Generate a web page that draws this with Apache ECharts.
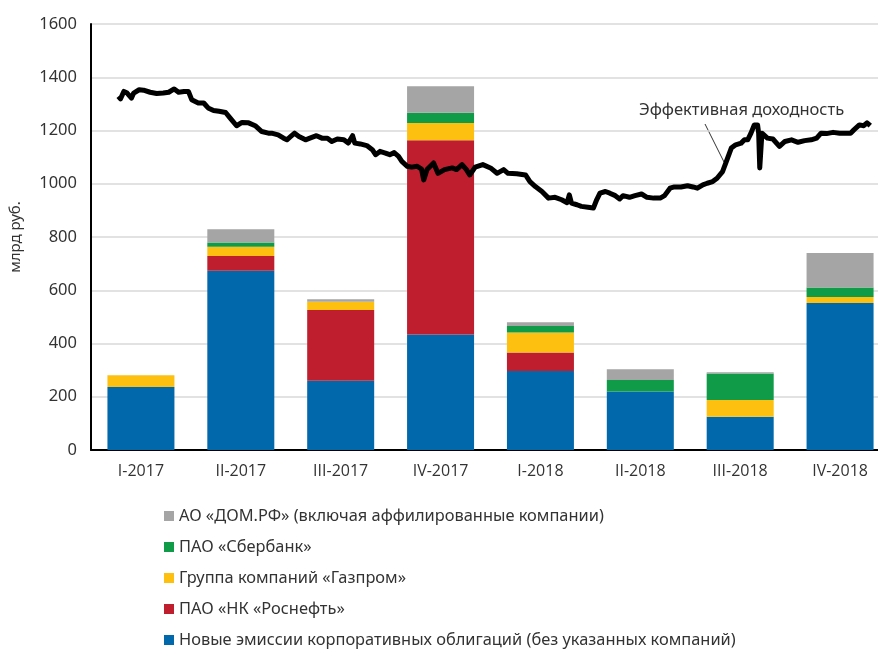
<!DOCTYPE html>
<html>
<head>
<meta charset="utf-8">
<script src="https://cdn.jsdelivr.net/npm/echarts@6/dist/echarts.min.js"></script>
<style>
  html, body { margin: 0; padding: 0; background: #fff; overflow: hidden; }
  #chart { width: 892px; height: 700px; }
</style>
</head>
<body>
<div id="chart"></div>
<script>
// quarters on the x axis
const quarters = ["I-2017", "II-2017", "III-2017", "IV-2017", "I-2018", "II-2018", "III-2018", "IV-2018"];

// placements, bn rub (stacked bottom to top)
const newIssues = [237, 673, 260, 434, 297, 220, 125, 552];
const rosneft = [0, 56, 266, 729, 69, 0, 0, 0];
const gazprom = [44, 34, 31, 65, 75, 0, 63, 23];
const sberbank = [0, 16, 0, 39, 25, 43, 99, 35];
const domrf = [0, 50, 9, 99, 14, 40, 5, 130];

const seriesNames = [
  "Новые эмиссии корпоративных облигаций (без указанных компаний)",
  "ПАО «НК «Роснефть»",
  "Группа компаний «Газпром»",
  "ПАО «Сбербанк»",
  "АО «ДОМ.РФ» (включая аффилированные компании)"
];
const seriesColors = ["#0268AC", "#BE1E2D", "#FDC010", "#0F9B48", "#A5A5A5"];

// effective yield, %
const yieldDates = [
  "2017-01-26", "2017-01-28", "2017-01-31", "2017-02-03", "2017-02-07", "2017-02-09", "2017-02-14", "2017-02-18",
  "2017-02-24", "2017-03-02", "2017-03-08", "2017-03-13", "2017-03-18", "2017-03-22", "2017-03-27", "2017-03-31",
  "2017-04-03", "2017-04-09", "2017-04-14", "2017-04-18", "2017-04-23", "2017-04-28", "2017-05-04", "2017-05-08",
  "2017-05-14", "2017-05-19", "2017-05-25", "2017-05-31", "2017-06-06", "2017-06-12", "2017-06-15", "2017-06-21",
  "2017-06-26", "2017-06-29", "2017-07-02", "2017-07-06", "2017-07-10", "2017-07-16", "2017-07-20", "2017-07-26",
  "2017-07-31", "2017-08-05", "2017-08-09", "2017-08-14", "2017-08-20", "2017-08-24", "2017-08-28", "2017-08-30",
  "2017-09-04", "2017-09-10", "2017-09-15", "2017-09-18", "2017-09-22", "2017-09-27", "2017-10-01", "2017-10-05",
  "2017-10-09", "2017-10-12", "2017-10-17", "2017-10-21", "2017-10-26", "2017-10-30", "2017-11-01", "2017-11-04",
  "2017-11-10", "2017-11-14", "2017-11-20", "2017-11-27", "2017-12-01", "2017-12-06", "2017-12-10", "2017-12-13",
  "2017-12-18", "2017-12-25", "2018-01-01", "2018-01-07", "2018-01-13", "2018-01-17", "2018-01-25", "2018-02-02",
  "2018-02-06", "2018-02-11", "2018-02-17", "2018-02-23", "2018-03-01", "2018-03-07", "2018-03-12", "2018-03-14",
  "2018-03-16", "2018-03-21", "2018-03-25", "2018-03-31", "2018-04-05", "2018-04-08", "2018-04-11", "2018-04-16",
  "2018-04-20", "2018-04-25", "2018-04-29", "2018-05-02", "2018-05-08", "2018-05-13", "2018-05-19", "2018-05-24",
  "2018-05-30", "2018-06-05", "2018-06-09", "2018-06-14", "2018-06-18", "2018-06-24", "2018-06-30", "2018-07-05",
  "2018-07-09", "2018-07-14", "2018-07-18", "2018-07-23", "2018-07-27", "2018-08-01", "2018-08-04", "2018-08-09",
  "2018-08-13", "2018-08-18", "2018-08-21", "2018-08-24", "2018-08-27", "2018-08-30", "2018-09-02", "2018-09-03",
  "2018-09-04", "2018-09-06", "2018-09-11", "2018-09-16", "2018-09-22", "2018-09-27", "2018-10-03", "2018-10-09",
  "2018-10-15", "2018-10-21", "2018-10-26", "2018-10-30", "2018-11-04", "2018-11-10", "2018-11-16", "2018-11-22",
  "2018-11-26", "2018-11-29", "2018-12-04", "2018-12-08", "2018-12-11", "2018-12-14"
];
const yieldValues = [
  9.85, 9.79, 9.97, 9.93, 9.81, 9.93, 10.01, 10.00,
  9.95, 9.92, 9.93, 9.95, 10.03, 9.95, 9.97, 9.97,
  9.77, 9.69, 9.69, 9.57, 9.51, 9.49, 9.46, 9.33,
  9.14, 9.22, 9.21, 9.14, 9.00, 8.96, 8.96, 8.92,
  8.84, 8.80, 8.87, 8.96, 8.88, 8.80, 8.84, 8.90,
  8.84, 8.84, 8.76, 8.82, 8.80, 8.72, 8.90, 8.72,
  8.70, 8.66, 8.56, 8.44, 8.52, 8.48, 8.44, 8.49,
  8.40, 8.28, 8.16, 8.14, 8.16, 8.09, 7.83, 8.08,
  8.24, 7.99, 8.08, 8.12, 8.08, 8.20, 8.08, 7.95,
  8.14, 8.20, 8.12, 7.99, 8.08, 7.99, 7.98, 7.95,
  7.79, 7.67, 7.55, 7.39, 7.41, 7.35, 7.28, 7.47,
  7.27, 7.23, 7.19, 7.17, 7.15, 7.35, 7.51, 7.55,
  7.51, 7.45, 7.37, 7.45, 7.41, 7.45, 7.49, 7.41,
  7.39, 7.39, 7.45, 7.63, 7.66, 7.66, 7.69, 7.66,
  7.63, 7.71, 7.75, 7.79, 7.87, 8.03, 8.24, 8.60,
  8.68, 8.72, 8.80, 8.80, 8.96, 9.16, 9.16, 8.96,
  8.12, 8.96, 8.84, 8.82, 8.64, 8.76, 8.80, 8.74,
  8.78, 8.80, 8.84, 8.96, 8.95, 8.98, 8.96, 8.96,
  8.96, 9.04, 9.16, 9.14, 9.21, 9.14
];

const chart = echarts.init(document.getElementById("chart"));
const font = "'Noto Sans', sans-serif";

const stacks = [newIssues, rosneft, gazprom, sberbank, domrf];
const barSeries = stacks.map((values, i) => ({
  name: seriesNames[i],
  type: "bar",
  stack: "total",
  barWidth: 67,
  data: values,
  itemStyle: { color: seriesColors[i] },
  z: 2
}));

const lastIdx = yieldValues.length - 1;
const lineData = yieldDates.map((d, i) => {
  const item = { value: [d, yieldValues[i]] };
  if (i === 0) {
    item.label = { show: true, position: "top", offset: [14, -12] };
  } else if (i === lastIdx) {
    item.label = { show: true, position: "bottom", offset: [-22, 22] };
  }
  return item;
});

const option = {
  backgroundColor: "#fff",
  animation: false,
  grid: { left: 90, top: 24, width: 800, height: 426, containLabel: false },
  legend: {
    orient: "vertical",
    left: 159,
    top: 502,
    itemWidth: 10,
    itemHeight: 10,
    itemGap: 13,
    icon: "rect",
    data: seriesNames.slice().reverse(),
    textStyle: { fontFamily: font, fontSize: 16.4, color: "#333", lineHeight: 18 }
  },
  xAxis: [
    {
      type: "category",
      data: quarters,
      axisLine: { lineStyle: { color: "#000", width: 2 } },
      axisTick: { show: false },
      axisLabel: { color: "#333", fontFamily: "'Open Sans', sans-serif", fontSize: 16, margin: 13 }
    },
    {
      type: "time",
      min: "2017-01-01",
      max: "2019-01-01",
      show: false
    }
  ],
  yAxis: [
    {
      type: "value",
      min: 0,
      max: 1600,
      interval: 200,
      name: "млрд руб.",
      nameLocation: "middle",
      nameGap: 68,
      nameTextStyle: { color: "#333", fontFamily: font, fontSize: 15 },
      axisLine: { show: true, lineStyle: { color: "#000", width: 2 } },
      axisTick: { show: false },
      axisLabel: { color: "#333", fontFamily: font, fontSize: 16.5, margin: 14, formatter: (v) => String(v) },
      splitLine: { lineStyle: { color: "#d9d9d9", width: 1.5 } }
    },
    {
      type: "value",
      min: 1.3,
      max: 11.6,
      show: false,
      splitLine: { show: false }
    }
  ],
  series: [
    ...barSeries,
    {
      name: "Эффективная доходность",
      type: "line",
      xAxisIndex: 1,
      yAxisIndex: 1,
      data: lineData,
      showSymbol: false,
      symbol: "none",
      lineStyle: { color: "#000", width: 5, join: "round" },
      label: {
        fontFamily: font,
        fontSize: 16,
        fontWeight: "bold",
        color: "#333",
        formatter: (p) => p.value[1].toFixed(2).replace(".", ",") + "%"
      },
      z: 5
    }
  ],
  graphic: [
    {
      type: "text",
      left: 639,
      top: 102,
      style: { text: "Эффективная доходность", fontFamily: font, fontSize: 16.5, fill: "#333" }
    },
    {
      type: "line",
      shape: { x1: 705, y1: 124, x2: 724, y2: 162 },
      style: { stroke: "#333", lineWidth: 1 }
    }
  ]
};

chart.setOption(option);
</script>
</body>
</html>
